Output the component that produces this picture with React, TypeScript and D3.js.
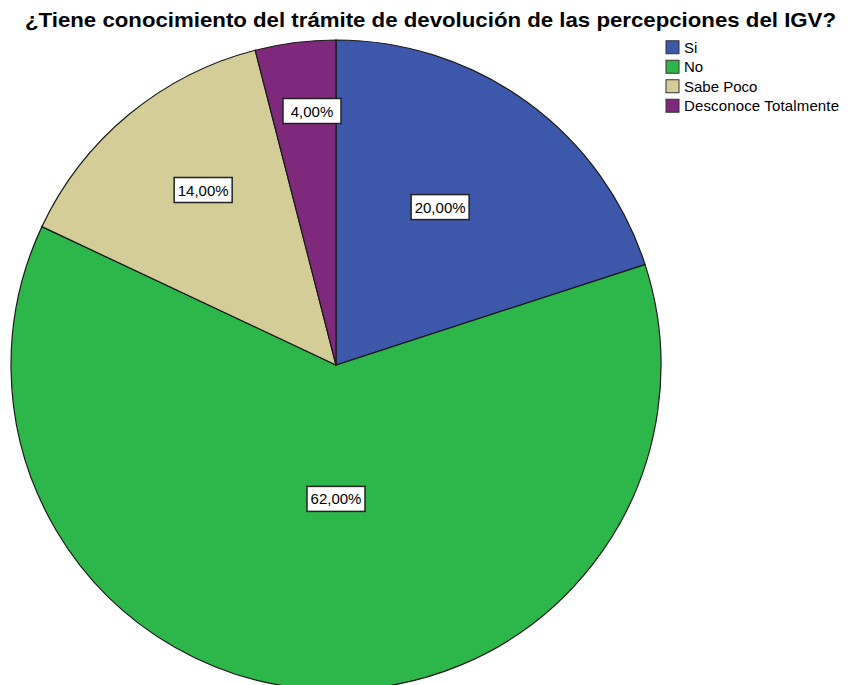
import React from "react";
import * as d3 from "d3";

const categories = ["Si", "No", "Sabe Poco", "Desconoce Totalmente"];
const percentages = [20, 62, 14, 4];
const colors = ["#3d58ab", "#2db74a", "#d4cd97", "#7e297c"];
const title = "¿Tiene conocimiento del trámite de devolución de las percepciones del IGV?";
// label placement (layout): distance as fraction of radius, and angle shift in degrees
const labelRadiusFactor = [0.582, 0.412, 0.676, 0.785];
const labelAngleShift = [-2.6, -3.6, 2.4, 1.8];

const W = 857;
const H = 685;
const cx = 336;
const cy = 365;
const R = 325;

export default function App() {
  const pie = d3.pie<number>().value((d) => d).sort(null);
  const arcs = pie(percentages);
  const arcGen = d3.arc<d3.PieArcDatum<number>>().innerRadius(0).outerRadius(R);
  const fmt = (v: number) => v.toFixed(2).replace(".", ",") + "%";
  const legendY = d3.scaleBand<string>().domain(categories).range([38, 116]);

  return (
    <svg width={W} height={H} style={{ position: "absolute", left: 0, top: 0 }} fontFamily="'Liberation Sans', Arial, sans-serif">
      <rect width={W} height={H} fill="#fff" />
      <text x={25} y={27} fontSize={21} fontWeight="bold" fill="#000" textLength={811} lengthAdjust="spacingAndGlyphs">{title}</text>
      <g transform={`translate(${cx},${cy})`}>
        {arcs.map((a, i) => (
          <path key={i} d={arcGen(a) || ""} fill={colors[i]} stroke="#1a1a1a" strokeWidth={1.2} />
        ))}
        {arcs.map((a, i) => {
          const mid = (a.startAngle + a.endAngle) / 2 + (labelAngleShift[i] * Math.PI) / 180;
          const r = R * labelRadiusFactor[i];
          const x = Math.sin(mid) * r;
          const y = -Math.cos(mid) * r;
          return (
            <g key={"l" + i} transform={`translate(${x},${y})`}>
              <rect x={-29} y={-12.5} width={58} height={25} fill="#fff" stroke="#222" strokeWidth={1.5} />
              <text x={0} y={5.5} textAnchor="middle" fontSize={15} fill="#000">{fmt(percentages[i])}</text>
            </g>
          );
        })}
      </g>
      <g>
        {categories.map((c, i) => {
          const y = (legendY(c) || 0) + legendY.bandwidth() / 2;
          return (
            <g key={c}>
              <rect x={666} y={y - 7} width={13} height={13} fill={colors[i]} stroke="#333" strokeWidth={1} />
              <text x={684} y={y + 5} fontSize={15} fill="#000" textLength={c === "Desconoce Totalmente" ? 155 : undefined}>{c}</text>
            </g>
          );
        })}
      </g>
    </svg>
  );
}
